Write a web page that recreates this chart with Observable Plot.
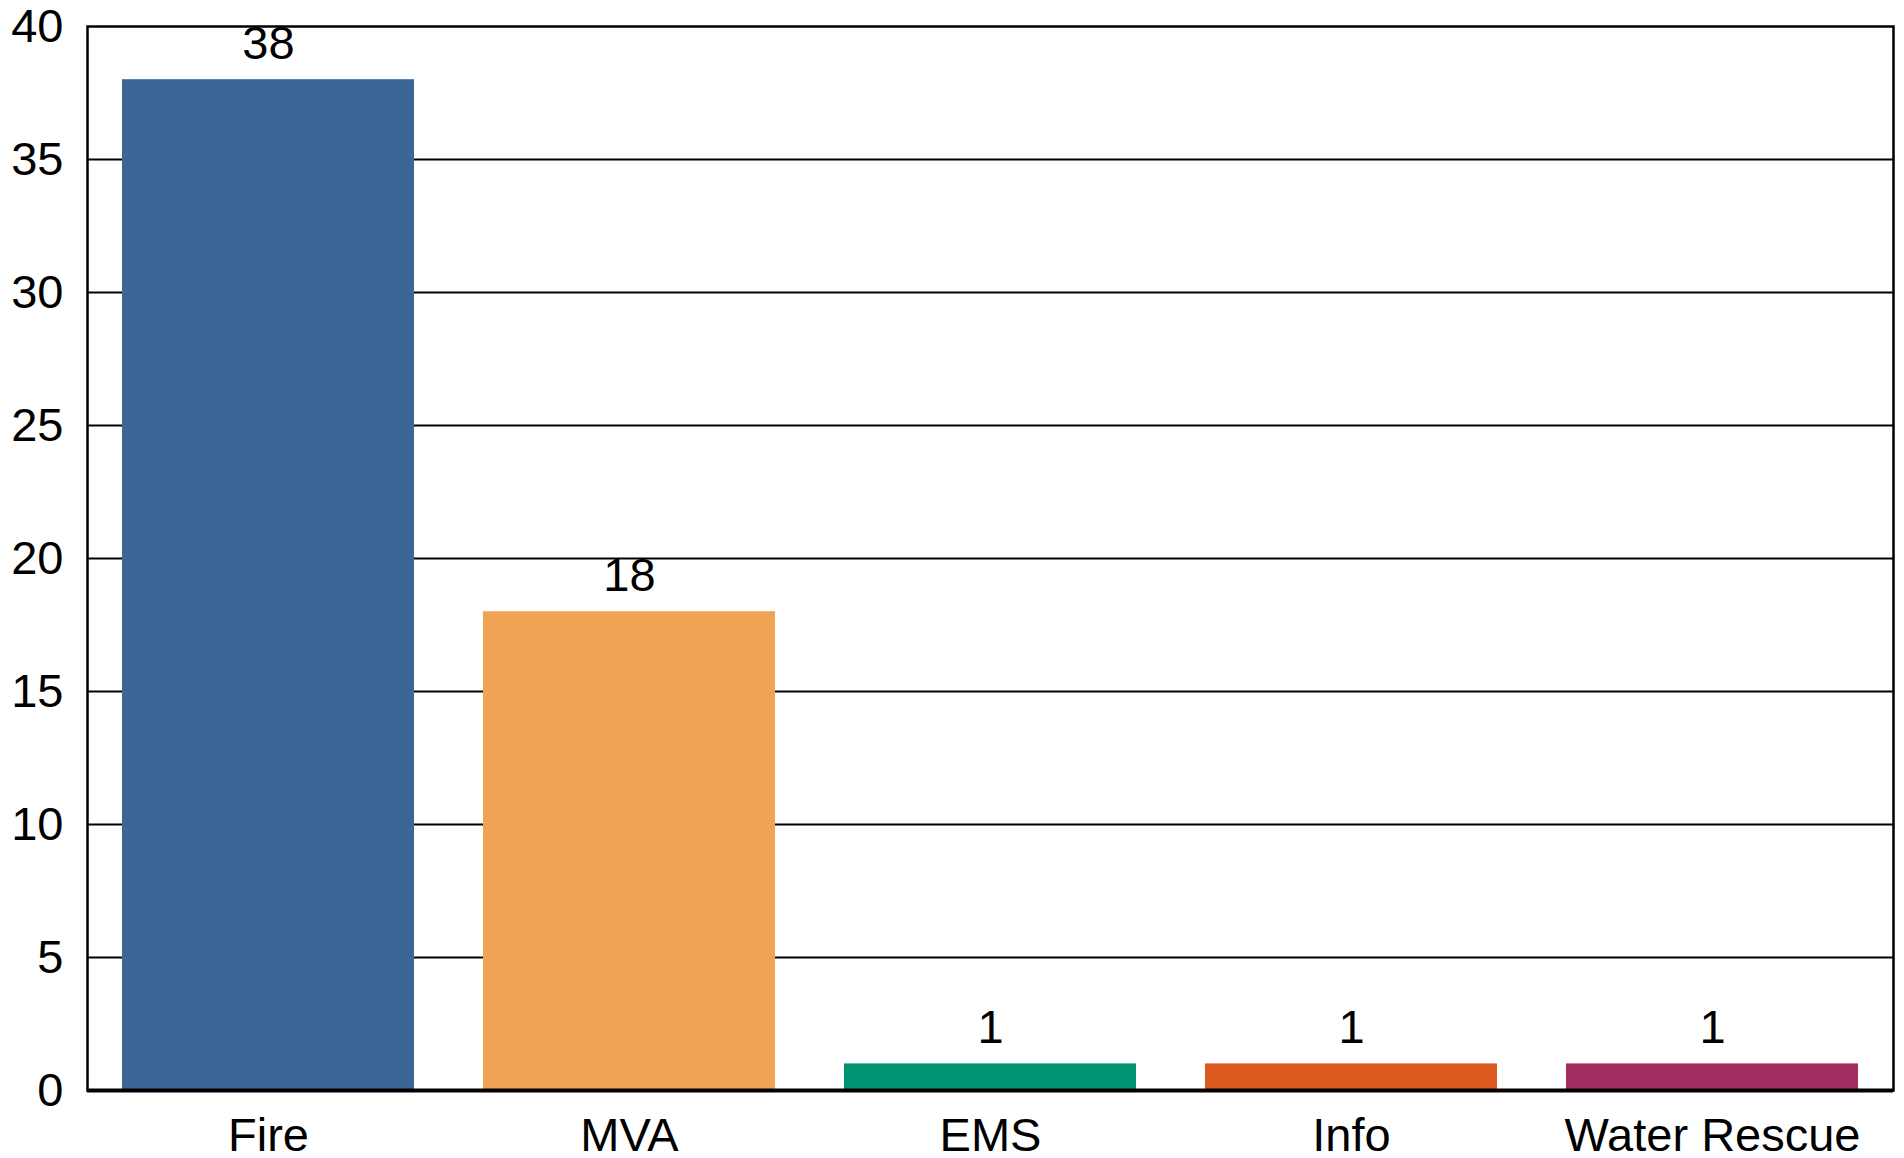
<!DOCTYPE html>
<html>
<head>
<meta charset="utf-8">
<script src="https://cdn.jsdelivr.net/npm/d3@7"></script>
<script src="https://cdn.jsdelivr.net/npm/@observablehq/plot@0.6"></script>
<style>
  html, body { margin: 0; padding: 0; background: #fff; }
  #chart svg { display: block; }
</style>
</head>
<body>
<div id="chart"></div>
<script>
const categories = ["Fire", "MVA", "EMS", "Info", "Water Rescue"];
const counts = [38, 18, 1, 1, 1];
const yTicks = [0, 5, 10, 15, 20, 25, 30, 35, 40];
const palette = ["#3b6696", "#efa355", "#009572", "#dc5a20", "#a22d60"];

const data = categories.map((c, i) => ({category: c, count: counts[i]}));

const chart = Plot.plot({
  width: 1904,
  height: 1158,
  marginLeft: 87,
  marginRight: 11,
  marginTop: 26,
  marginBottom: 68,
  style: {fontFamily: "'Liberation Sans', Arial, sans-serif", fontSize: "48px", color: "#000", background: "#fff"},
  x: {domain: categories, paddingInner: 0.19, paddingOuter: 0.095, label: null},
  y: {domain: [0, 40], label: null},
  color: {domain: categories, range: palette},
  marks: [
    Plot.ruleY(yTicks.filter(t => t > 0 && t < 40), {stroke: "#000", strokeWidth: 2, strokeOpacity: 1}),
    Plot.barY(data, {x: "category", y: "count", fill: "category"}),
    Plot.text(data, {x: "category", y: "count", text: d => String(d.count), dy: -36, fontSize: 47, fill: "#000"}),
    Plot.axisY({ticks: yTicks, tickSize: 0, tickPadding: 24, fontSize: 47, label: null}),
    Plot.axisX({tickSize: 0, tickPadding: 27, fontSize: 47, label: null}),
    Plot.frame({stroke: "#000", strokeWidth: 2.5}),
    Plot.ruleX([0], {frameAnchor: "left", stroke: "#000", strokeWidth: 3.5}),
    Plot.ruleY([0], {stroke: "#000", strokeWidth: 4})
  ]
});
document.getElementById("chart").appendChild(chart);
</script>
</body>
</html>
